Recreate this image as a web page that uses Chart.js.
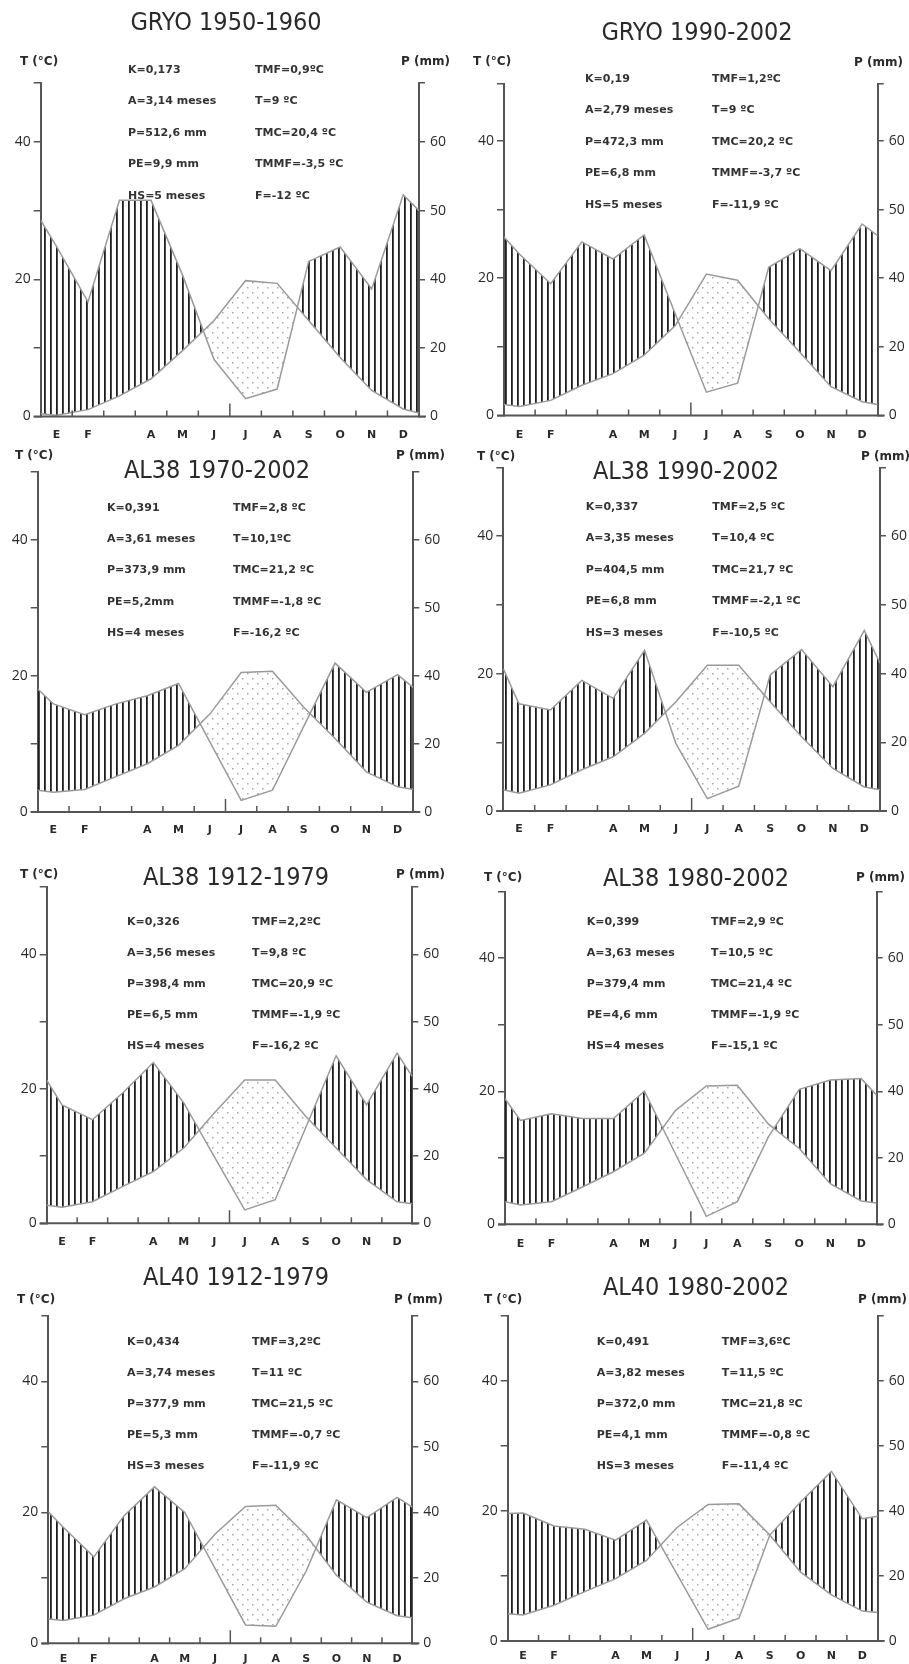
<!DOCTYPE html>
<html>
<head>
<meta charset="utf-8">
<script src="https://cdn.jsdelivr.net/npm/chart.js@4.4.1/dist/chart.umd.min.js"></script>
<style>
  html, body { margin: 0; padding: 0; background: #fff; }
  body { width: 909px; height: 1664px; position: relative; overflow: hidden; }
  canvas { position: absolute; }
</style>
</head>
<body>
<script>
// ============================================
// DATA
// ============================================

// x positions: left edge, month centres (E..D), right edge
const xPos = [0, 0.5, 1.5, 2.5, 3.5, 4.5, 5.5, 6.5, 7.5, 8.5, 9.5, 10.5, 11.5, 12];
const monthTicks = [0.5, 1.5, 2.5, 3.5, 4.5, 5.5, 6.5, 7.5, 8.5, 9.5, 10.5, 11.5];
const monthLabels = ['E', 'F', '', 'A', 'M', 'J', 'J', 'A', 'S', 'O', 'N', 'D'];

// left axis (°C) and right axis (mm)
const tTickValues = [0, 10, 20, 30, 40];
const tTickLabels = ['0', '', '20', '', '40'];
const pTickValues = [0, 20, 40, 50, 60];

// temperature (°C) and precipitation (mm), [edge, E..D, edge]
const tempGryo5060 = [0.4, 0.2, 1.0, 3.0, 5.5, 9.6, 14.0, 19.8, 19.4, 14.0, 8.6, 3.8, 1.1, 0.5];
const precGryo5060 = [48.6, 44.8, 33.4, 51.5, 51.5, 40.6, 16.6, 5.2, 8.0, 42.6, 44.7, 37.2, 52.3, 50.0];

const tempGryo9002 = [1.6, 1.3, 2.2, 4.4, 6.1, 8.8, 13.1, 20.6, 19.7, 14.1, 9.2, 4.2, 2.0, 1.6];
const precGryo9002 = [46.0, 43.5, 38.4, 45.3, 42.8, 46.3, 29.6, 6.8, 9.4, 41.6, 44.3, 41.1, 47.9, 46.2];

const tempAl38_7002 = [3.2, 2.9, 3.3, 5.2, 7.1, 9.8, 14.4, 20.5, 20.7, 15.4, 10.8, 5.9, 3.7, 3.3];
const precAl38_7002 = [36.2, 31.8, 28.6, 31.8, 34.2, 37.8, 20.6, 3.4, 6.4, 25.2, 41.9, 35.2, 40.2, 36.6];

const tempAl38_9002 = [3.1, 2.6, 3.8, 6.0, 7.9, 11.3, 15.9, 21.2, 21.2, 15.9, 10.8, 6.2, 3.5, 3.1];
const precAl38_9002 = [40.7, 31.2, 29.4, 38.0, 32.8, 43.4, 19.6, 3.6, 7.2, 39.6, 43.5, 36.2, 46.3, 41.5];

const tempAl38_1279 = [2.7, 2.4, 3.2, 5.5, 7.7, 11.2, 16.4, 21.3, 21.3, 15.9, 11.2, 6.5, 3.2, 2.9];
const precAl38_1279 = [41.3, 35.2, 30.8, 38.8, 43.9, 35.8, 19.8, 4.0, 7.0, 28.4, 44.9, 35.2, 45.3, 41.8];

const tempAl38_8002 = [3.4, 2.9, 3.4, 5.6, 7.9, 10.7, 17.1, 20.8, 20.9, 15.1, 11.4, 6.1, 3.5, 3.2];
const precAl38_8002 = [37.8, 31.2, 33.2, 31.8, 31.8, 40.0, 21.2, 2.4, 6.8, 26.2, 40.3, 41.7, 41.9, 38.8];

const tempAl40_1279 = [3.7, 3.5, 4.3, 6.8, 8.6, 11.4, 16.7, 20.9, 21.1, 16.5, 10.4, 6.3, 4.2, 3.9];
const precAl40_1279 = [40.1, 35.4, 26.4, 39.0, 43.9, 40.0, 22.8, 5.6, 5.2, 22.0, 41.9, 38.4, 42.3, 40.8];

const tempAl40_8002 = [4.2, 4.0, 5.5, 7.6, 9.6, 12.4, 17.5, 21.0, 21.1, 16.3, 10.6, 7.1, 4.6, 4.4];
const precAl40_8002 = [39.2, 39.4, 35.4, 34.4, 31.0, 37.2, 20.4, 3.6, 7.0, 32.6, 41.4, 46.1, 37.6, 38.4];

// climate indices, [left column, right column]
const statsGryo5060 = [['K=0,173', 'TMF=0,9ºC'], ['A=3,14 meses', 'T=9 ºC'], ['P=512,6 mm', 'TMC=20,4 ºC'], ['PE=9,9 mm', 'TMMF=-3,5 ºC'], ['HS=5 meses', 'F=-12 ºC']];
const statsGryo9002 = [['K=0,19', 'TMF=1,2ºC'], ['A=2,79 meses', 'T=9 ºC'], ['P=472,3 mm', 'TMC=20,2 ºC'], ['PE=6,8 mm', 'TMMF=-3,7 ºC'], ['HS=5 meses', 'F=-11,9 ºC']];
const statsAl38_7002 = [['K=0,391', 'TMF=2,8 ºC'], ['A=3,61 meses', 'T=10,1ºC'], ['P=373,9 mm', 'TMC=21,2 ºC'], ['PE=5,2mm', 'TMMF=-1,8 ºC'], ['HS=4 meses', 'F=-16,2 ºC']];
const statsAl38_9002 = [['K=0,337', 'TMF=2,5 ºC'], ['A=3,35 meses', 'T=10,4 ºC'], ['P=404,5 mm', 'TMC=21,7 ºC'], ['PE=6,8 mm', 'TMMF=-2,1 ºC'], ['HS=3 meses', 'F=-10,5 ºC']];
const statsAl38_1279 = [['K=0,326', 'TMF=2,2ºC'], ['A=3,56 meses', 'T=9,8 ºC'], ['P=398,4 mm', 'TMC=20,9 ºC'], ['PE=6,5 mm', 'TMMF=-1,9 ºC'], ['HS=4 meses', 'F=-16,2 ºC']];
const statsAl38_8002 = [['K=0,399', 'TMF=2,9 ºC'], ['A=3,63 meses', 'T=10,5 ºC'], ['P=379,4 mm', 'TMC=21,4 ºC'], ['PE=4,6 mm', 'TMMF=-1,9 ºC'], ['HS=4 meses', 'F=-15,1 ºC']];
const statsAl40_1279 = [['K=0,434', 'TMF=3,2ºC'], ['A=3,74 meses', 'T=11 ºC'], ['P=377,9 mm', 'TMC=21,5 ºC'], ['PE=5,3 mm', 'TMMF=-0,7 ºC'], ['HS=3 meses', 'F=-11,9 ºC']];
const statsAl40_8002 = [['K=0,491', 'TMF=3,6ºC'], ['A=3,82 meses', 'T=11,5 ºC'], ['P=372,0 mm', 'TMC=21,8 ºC'], ['PE=4,1 mm', 'TMMF=-0,8 ºC'], ['HS=3 meses', 'F=-11,4 ºC']];

// ============================================
// LAYOUT (page pixels)
// ============================================

const panels = [
    { title: 'GRYO 1950-1960', temp: tempGryo5060, prec: precGryo5060, stats: statsGryo5060,
      box: [0, 0, 455, 446], area: [40.7, 83, 419, 416.5], tMax: 48.6,
      titleAt: [226, 23], tLabel: [20, 62], pLabel: [450, 62], statsAt: [128, 255, 70, 31.5], monthPad: 12 },
    { title: 'GRYO 1990-2002', temp: tempGryo9002, prec: precGryo9002, stats: statsGryo9002,
      box: [455, 0, 454, 446], area: [504, 84, 877.7, 415.5], tMax: 48.3,
      titleAt: [697, 33], tLabel: [473, 62], pLabel: [903, 63], statsAt: [585, 712, 79, 31.5], monthPad: 13 },
    { title: 'AL38 1970-2002', temp: tempAl38_7002, prec: precAl38_7002, stats: statsAl38_7002,
      box: [0, 446, 455, 399], area: [37.7, 472, 413.3, 812], tMax: 50,
      titleAt: [217, 471], tLabel: [15, 456], pLabel: [445, 456], statsAt: [107, 233, 507.7, 31.4], monthPad: 12 },
    { title: 'AL38 1990-2002', temp: tempAl38_9002, prec: precAl38_9002, stats: statsAl38_9002,
      box: [455, 446, 454, 399], area: [503.3, 467.5, 880, 811], tMax: 50,
      titleAt: [686, 472], tLabel: [477, 457], pLabel: [910, 457], statsAt: [585.7, 712.3, 507, 31.5], monthPad: 12 },
    { title: 'AL38 1912-1979', temp: tempAl38_1279, prec: precAl38_1279, stats: statsAl38_1279,
      box: [0, 845, 455, 407], area: [46.7, 887, 412.3, 1223.3], tMax: 50,
      titleAt: [236, 878], tLabel: [20, 875], pLabel: [445, 875], statsAt: [127, 252, 921.7, 31], monthPad: 12 },
    { title: 'AL38 1980-2002', temp: tempAl38_8002, prec: precAl38_8002, stats: statsAl38_8002,
      box: [455, 845, 454, 407], area: [505, 891.7, 876.7, 1224.3], tMax: 50,
      titleAt: [696, 879], tLabel: [484, 878], pLabel: [905, 878], statsAt: [586.7, 711, 921.7, 31], monthPad: 13 },
    { title: 'AL40 1912-1979', temp: tempAl40_1279, prec: precAl40_1279, stats: statsAl40_1279,
      box: [0, 1252, 455, 412], area: [48.3, 1316, 412.3, 1643.3], tMax: 50,
      titleAt: [236, 1278], tLabel: [17, 1300], pLabel: [443, 1300], statsAt: [127, 252, 1342.3, 30.9], monthPad: 9 },
    { title: 'AL40 1980-2002', temp: tempAl40_8002, prec: precAl40_8002, stats: statsAl40_8002,
      box: [455, 1252, 454, 412], area: [507.7, 1316, 877.7, 1641], tMax: 50,
      titleAt: [696, 1288], tLabel: [484, 1300], pLabel: [907, 1300], statsAt: [596.7, 721.7, 1342, 31], monthPad: 9 }
];

const AXIS_COLOR = '#555';
const LINE_COLOR = '#9a9a9a';
const TEXT_COLOR = '#2a2a2a';

// precipitation scale of the right axis: 2 mm per °C up to 40 mm, then 1 mm per °C
function pToAxis(mm) {
    return mm <= 40 ? mm / 2 : mm - 20;
}

// ============================================
// FILL PATTERNS
// ============================================

function makeHatch() {
    const c = document.createElement('canvas');
    c.width = 6; c.height = 6;
    const g = c.getContext('2d');
    g.fillStyle = '#1e1e1e';
    g.fillRect(2, 0, 1.8, 6);
    return g.createPattern(c, 'repeat');
}

function makeDots() {
    const c = document.createElement('canvas');
    c.width = 10; c.height = 10;
    const g = c.getContext('2d');
    g.fillStyle = '#a8a8a8';
    g.fillRect(2, 2, 1.5, 1.5);
    g.fillRect(7, 7, 1.5, 1.5);
    return g.createPattern(c, 'repeat');
}

const hatch = makeHatch();
const dots = makeDots();

// ============================================
// DECORATION PLUGIN (texts, x axis line, month ticks)
// ============================================

function makeDecor(p) {
    return {
        id: 'decor',
        afterDraw(chart) {
            const ctx = chart.ctx;
            const area = chart.chartArea;
            const xs = chart.scales.x;
            const bx = p.box[0], by = p.box[1];

            ctx.save();
            // x axis
            ctx.strokeStyle = AXIS_COLOR;
            ctx.lineWidth = 2;
            ctx.beginPath();
            ctx.moveTo(area.left - 7, area.bottom);
            ctx.lineTo(area.right + 7, area.bottom);
            ctx.stroke();

            // month boundaries, ticks pointing up
            ctx.lineWidth = 1.5;
            for (let m = 1; m < 12; m++) {
                const px = xs.getPixelForValue(m);
                const len = m === 6 ? 13 : 6;
                ctx.beginPath();
                ctx.moveTo(px, area.bottom);
                ctx.lineTo(px, area.bottom - len);
                ctx.stroke();
            }

            ctx.fillStyle = TEXT_COLOR;
            ctx.textBaseline = 'middle';

            // title
            ctx.font = '25px "Liberation Sans Narrow", "DejaVu Sans Condensed", sans-serif';
            ctx.textAlign = 'center';
            ctx.fillText(p.title, p.titleAt[0] - bx, p.titleAt[1] - by);

            // axis names
            ctx.font = 'bold 12px "DejaVu Sans", sans-serif';
            ctx.textAlign = 'left';
            ctx.fillText('T (°C)', p.tLabel[0] - bx, p.tLabel[1] - by);
            ctx.textAlign = 'right';
            ctx.fillText('P (mm)', p.pLabel[0] - bx, p.pLabel[1] - by);

            // indices
            ctx.font = 'bold 11px "DejaVu Sans", sans-serif';
            ctx.fillStyle = '#333';
            ctx.textAlign = 'left';
            const [c1, c2, y0, dy] = p.statsAt;
            p.stats.forEach((row, i) => {
                ctx.fillText(row[0], c1 - bx, y0 + i * dy - by);
                ctx.fillText(row[1], c2 - bx, y0 + i * dy - by);
            });
            ctx.restore();
        }
    };
}

// ============================================
// CHARTS
// ============================================

function buildChart(p) {
    const [bx, by, bw, bh] = p.box;
    const [left, top, right, bottom] = p.area;

    const canvas = document.createElement('canvas');
    canvas.width = bw;
    canvas.height = bh;
    canvas.style.left = bx + 'px';
    canvas.style.top = by + 'px';
    canvas.style.width = bw + 'px';
    canvas.style.height = bh + 'px';
    document.body.appendChild(canvas);

    const tempData = xPos.map((x, i) => ({ x: x, y: p.temp[i] }));
    const precData = xPos.map((x, i) => ({ x: x, y: pToAxis(p.prec[i]) }));

    const tickFont = { family: '"Open Sans", sans-serif', size: 14 };

    new Chart(canvas, {
        type: 'line',
        data: {
            datasets: [
                {
                    label: 'T',
                    data: tempData,
                    borderColor: LINE_COLOR,
                    borderWidth: 1.5,
                    pointRadius: 0,
                    fill: false,
                    yAxisID: 'y'
                },
                {
                    label: 'P',
                    data: precData,
                    borderColor: LINE_COLOR,
                    borderWidth: 1.5,
                    pointRadius: 0,
                    fill: { target: 0, above: hatch, below: dots },
                    yAxisID: 'y'
                }
            ]
        },
        options: {
            responsive: false,
            animation: false,
            events: [],
            layout: { padding: { top: top - by, left: 0, right: 0, bottom: 0 } },
            plugins: {
                legend: { display: false },
                tooltip: { enabled: false }
            },
            scales: {
                x: {
                    type: 'linear',
                    min: 0,
                    max: 12,
                    afterFit: s => { s.height = by + bh - bottom; },
                    afterBuildTicks: s => { s.ticks = monthTicks.map(v => ({ value: v })); },
                    border: { display: false },
                    grid: { display: false, drawTicks: false },
                    ticks: {
                        autoSkip: false,
                        maxRotation: 0,
                        padding: p.monthPad,
                        color: TEXT_COLOR,
                        font: { family: '"DejaVu Sans", sans-serif', size: 11, weight: 'bold' },
                        callback: (v, i) => monthLabels[i]
                    }
                },
                y: {
                    position: 'left',
                    min: 0,
                    max: p.tMax,
                    afterFit: s => { s.width = left - bx; },
                    afterBuildTicks: s => { s.ticks = tTickValues.concat([p.tMax]).map(v => ({ value: v })); },
                    border: { display: true, color: AXIS_COLOR, width: 2 },
                    grid: { drawOnChartArea: false, drawTicks: true, tickLength: 7, color: AXIS_COLOR, lineWidth: 1.5 },
                    ticks: {
                        autoSkip: false,
                        padding: 3,
                        color: TEXT_COLOR,
                        font: tickFont,
                        callback: v => {
                            const i = tTickValues.indexOf(v);
                            return i >= 0 ? tTickLabels[i] : '';
                        }
                    }
                },
                y2: {
                    position: 'right',
                    min: 0,
                    max: p.tMax,
                    afterFit: s => { s.width = bx + bw - right; },
                    afterBuildTicks: s => { s.ticks = pTickValues.map(pToAxis).concat([p.tMax]).map(v => ({ value: v })); },
                    border: { display: true, color: AXIS_COLOR, width: 2 },
                    grid: { drawOnChartArea: false, drawTicks: true, tickLength: 6, color: AXIS_COLOR, lineWidth: 1.5 },
                    ticks: {
                        autoSkip: false,
                        padding: 5,
                        color: TEXT_COLOR,
                        font: tickFont,
                        callback: v => {
                            const i = pTickValues.map(pToAxis).indexOf(v);
                            return i >= 0 ? String(pTickValues[i]) : '';
                        }
                    }
                }
            }
        },
        plugins: [makeDecor(p)]
    });
}

panels.forEach(buildChart);
</script>
</body>
</html>
